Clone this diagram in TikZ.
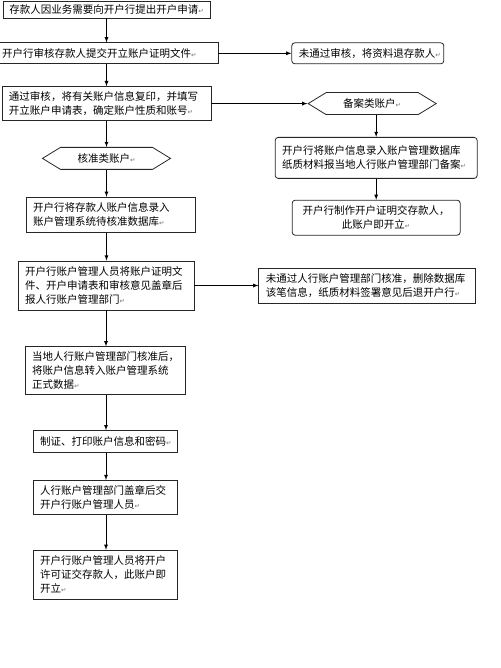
\documentclass[tikz,border=0pt]{standalone}
\usepackage{fontspec}
\usepackage{tikz}
\usetikzlibrary{shapes, arrows, positioning}
\newfontfamily\cjk{Noto Sans CJK SC}
\newfontfamily\markfont{DejaVu Sans}
\newcommand{\pmk}{{\markfont\fontsize{6.5}{6.5}\selectfont\textcolor{black!55}{↵}}}
\tikzstyle{stepbox} = [rectangle, draw=black!85, line width=0.8pt, font=\cjk\fontsize{10.5}{14}\selectfont, align=left, inner xsep=7pt, inner ysep=2pt]
\tikzstyle{roundbox} = [stepbox, rounded corners=3pt]
\tikzstyle{kind} = [signal, signal to=west and east, signal pointer angle=63, draw=black!85, line width=0.8pt, font=\cjk\fontsize{10.5}{14}\selectfont, inner sep=1pt, minimum width=128pt, minimum height=22pt]
\tikzstyle{arrow} = [line width=0.8pt, ->, >=latex]

\begin{document}
\begin{tikzpicture}[node distance=24pt]
\useasboundingbox (0,0) rectangle (500pt,-668pt);
% main column
\node (apply) [stepbox, inner xsep=5pt, minimum width=207pt, minimum height=17pt, align=center] at (106.5pt,-9.5pt) {存款人因业务需要向开户行提出开户申请\pmk};
\node (review) [stepbox, text width=209pt, minimum height=21pt, below=24pt of apply] {开户行审核存款人提交开立账户证明文件\pmk};
\node (copy) [stepbox, text width=195pt, minimum height=34pt, below=22pt of review] {通过审核，将有关账户信息复印，并填写\\开立账户申请表，确定账户性质和账号\pmk};
\node (approved) [kind, below=26pt of copy] {核准类账户\pmk};
\node (entry) [stepbox, text width=155pt, minimum height=35pt, below=27pt of approved, xshift=4pt] {开户行将存款人账户信息录入\\账户管理系统待核准数据库\pmk};
\node (report) [stepbox, text width=162pt, minimum height=49pt, below=28pt of entry, xshift=-4.5pt] {开户行账户管理人员将账户证明文\\件、开户申请表和审核意见盖章后\\报人行账户管理部门\pmk};
\node (transfer) [stepbox, text width=146pt, minimum height=48pt, below=36pt of report, xshift=-1pt] {当地人行账户管理部门核准后，\\将账户信息转入账户管理系统\\正式数据\pmk};
\node (print) [stepbox, text width=130pt, minimum height=22pt, below=35pt of transfer] {制证、打印账户信息和密码\pmk};
\node (stamp) [stepbox, text width=130pt, minimum height=34pt, below=27pt of print] {人行账户管理部门盖章后交\\开户行账户管理人员\pmk};
\node (license) [stepbox, text width=130pt, minimum height=49pt, below=35pt of stamp] {开户行账户管理人员将开户\\许可证交存款人，此账户即\\开立\pmk};
% right column
\node (returned) [roundbox, text width=138pt, minimum height=21pt, right=73pt of review] {未通过审核，将资料退存款人\pmk};
\node (filed) [kind, right=96pt of copy] {备案类账户\pmk};
\node (record) [roundbox, text width=188pt, minimum height=41pt, below=22pt of filed, xshift=4pt] {开户行将账户信息录入账户管理数据库\\纸质材料报当地人行账户管理部门备案\pmk};
\node (opened) [roundbox, text width=154pt, minimum height=35pt, below=21pt of record, align=center] {开户行制作开户证明交存款人，\\此账户即开立\pmk};
\node (rejected) [stepbox, text width=203pt, minimum height=35pt, right=64pt of report] {未通过人行账户管理部门核准，删除数据库\\该笔信息，纸质材料签署意见后退开户行\pmk};

\draw [arrow] (apply) -- (apply |- review.north);
\draw [arrow] (review.south -| apply) -- (copy.north -| apply);
\draw [arrow] (copy.south -| apply) -- (approved.north -| apply);
\draw [arrow] (approved) -- (approved |- entry.north);
\draw [arrow] (entry.south -| approved) -- (report.north -| approved);
\draw [arrow] (report) -- (report |- transfer.north);
\draw [arrow] (transfer.south -| report) -- (print.north -| report);
\draw [arrow] (print.south -| report) -- (stamp.north -| report);
\draw [arrow] (stamp.south -| report) -- (license.north -| report);
\draw [arrow] (review) -- (returned);
\draw [arrow] (copy) -- (filed);
\draw [arrow] (record |- filed.south) -- (record);
\draw [arrow] (record) -- (opened);
\draw [arrow] (report) -- (rejected);
\end{tikzpicture}
\end{document}
